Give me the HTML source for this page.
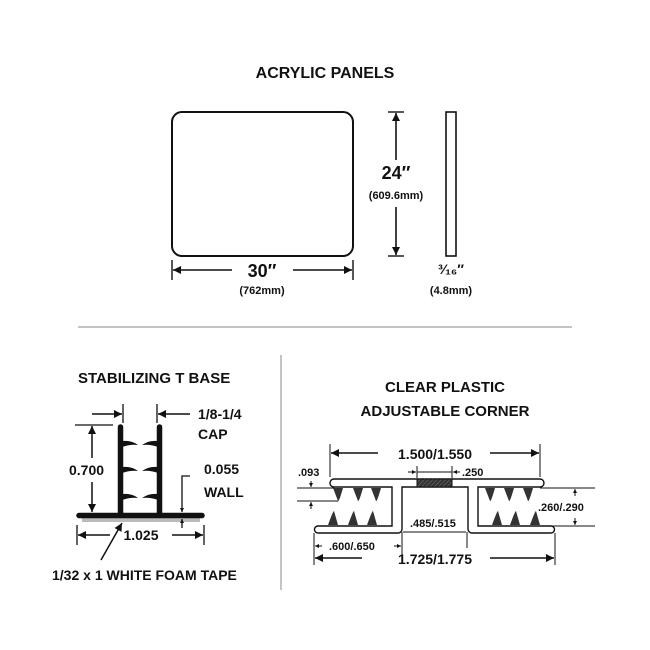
<!DOCTYPE html>
<html><head><style>
body{margin:0;background:#fff}
svg{display:block}
text{font-family:"Liberation Sans",sans-serif;font-weight:bold;fill:#111}
</style></head><body>
<svg width="650" height="650" viewBox="0 0 650 650" xmlns="http://www.w3.org/2000/svg">
<defs>
<marker id="a" viewBox="0 0 10 10" refX="10" refY="5" markerWidth="10" markerHeight="8" orient="auto-start-reverse" markerUnits="userSpaceOnUse"><path d="M0,0L10,5L0,10z" fill="#111"/></marker>
<marker id="s" viewBox="0 0 10 10" refX="10" refY="5" markerWidth="5" markerHeight="4" orient="auto-start-reverse" markerUnits="userSpaceOnUse"><path d="M0,0L10,5L0,10z" fill="#111"/></marker>
<pattern id="h" width="3" height="3" patternUnits="userSpaceOnUse" patternTransform="rotate(45)"><rect width="3" height="3" fill="#333"/><line x1="0" y1="0" x2="0" y2="3" stroke="#777" stroke-width="1"/></pattern>
</defs>
<g stroke="#111" fill="none">
<rect x="172" y="112" width="181" height="144" rx="10" stroke-width="2"/>
<rect x="446" y="112" width="10" height="144" stroke-width="1.6"/>
<line x1="388" y1="112" x2="404" y2="112" stroke-width="1.4"/>
<line x1="388" y1="256" x2="404" y2="256" stroke-width="1.4"/>
<line x1="396" y1="160" x2="396" y2="113" stroke-width="1.6" marker-end="url(#a)"/>
<line x1="396" y1="207" x2="396" y2="255" stroke-width="1.6" marker-end="url(#a)"/>
<line x1="172" y1="260" x2="172" y2="280" stroke-width="1.4"/>
<line x1="353" y1="260" x2="353" y2="280" stroke-width="1.4"/>
<line x1="232" y1="270" x2="173" y2="270" stroke-width="1.6" marker-end="url(#a)"/>
<line x1="293" y1="270" x2="352" y2="270" stroke-width="1.6" marker-end="url(#a)"/>
<line x1="78" y1="327" x2="572" y2="327" stroke="#888" stroke-width="1"/>
<line x1="281" y1="355" x2="281" y2="590" stroke="#888" stroke-width="1"/>
<!-- T base -->
<line x1="82" y1="520" x2="200" y2="520" stroke="#bbb" stroke-width="4"/>
<line x1="79" y1="515.5" x2="202" y2="515.5" stroke-width="5.5" stroke-linecap="round"/>
<line x1="120.5" y1="427" x2="120.5" y2="514" stroke-width="5.5" stroke-linecap="round"/>
<line x1="159.5" y1="427" x2="159.5" y2="514" stroke-width="5.5" stroke-linecap="round"/>
<g fill="#111" stroke="none">
<path d="M122,441 Q131,440 138,445 Q130,444 122,447z"/>
<path d="M122,467 Q131,466 138,471 Q130,470 122,473z"/>
<path d="M122,494 Q131,493 138,498 Q130,497 122,500z"/>
<path d="M158,441 Q149,440 142,445 Q150,444 158,447z"/>
<path d="M158,467 Q149,466 142,471 Q150,470 158,473z"/>
<path d="M158,494 Q149,493 142,498 Q150,497 158,500z"/>
</g>
<line x1="75" y1="425" x2="113" y2="425" stroke-width="1.3"/>
<line x1="92" y1="458" x2="92" y2="426" stroke-width="1.5" marker-end="url(#a)"/>
<line x1="92" y1="482" x2="92" y2="512" stroke-width="1.5" marker-end="url(#a)"/>
<line x1="123" y1="404" x2="123" y2="423" stroke-width="1.3"/>
<line x1="157" y1="404" x2="157" y2="423" stroke-width="1.3"/>
<line x1="92" y1="414" x2="122" y2="414" stroke-width="1.5" marker-end="url(#a)"/>
<line x1="190" y1="414" x2="158" y2="414" stroke-width="1.5" marker-end="url(#a)"/>
<polyline points="190,476 182,476 182,512" stroke-width="1.3" marker-end="url(#s)"/>
<line x1="182" y1="528" x2="182" y2="519" stroke-width="1.3" marker-end="url(#s)"/>
<line x1="77" y1="525" x2="77" y2="545" stroke-width="1.3"/>
<line x1="204" y1="525" x2="204" y2="545" stroke-width="1.3"/>
<line x1="110" y1="535" x2="78" y2="535" stroke-width="1.5" marker-end="url(#a)"/>
<line x1="172" y1="535" x2="203" y2="535" stroke-width="1.5" marker-end="url(#a)"/>
<line x1="101" y1="560" x2="122" y2="523" stroke-width="1.5" marker-end="url(#a)"/>
<!-- corner -->
<path d="M334,479 H540 a4,4 0 0 1 0,8 H478 V526 H551 a3.5,3.5 0 0 1 0,7 H472 a4,4 0 0 1 -4,-4 V487 H402 V529 a4,4 0 0 1 -4,4 H318 a3.5,3.5 0 0 1 0,-7 H392 V487 H334 a4,4 0 0 1 0,-8z" fill="#fff" stroke-width="1.4"/>
<rect x="417" y="479" width="35" height="8" fill="url(#h)" stroke-width="1"/>
<g fill="#333" stroke="none">
<path d="M333,488 L343,488 Q339,502 338,501z"/><path d="M353,488 L363,488 Q359,502 358,501z"/><path d="M371,488 L381,488 Q377,502 376,501z"/>
<path d="M485,488 L495,488 Q491,502 490,501z"/><path d="M504,488 L514,488 Q510,502 509,501z"/><path d="M523,488 L533,488 Q529,502 528,501z"/>
<path d="M328,525 L338,525 L334,511 Q333,511 328,525z"/><path d="M348,525 L358,525 L354,511 Q353,511 348,525z"/><path d="M367,525 L377,525 L373,511 Q372,511 367,525z"/>
<path d="M492,525 L502,525 L498,511 Q497,511 492,525z"/><path d="M510,525 L520,525 L516,511 Q515,511 510,525z"/><path d="M530,525 L540,525 L536,511 Q535,511 530,525z"/>
</g>
<line x1="330" y1="444" x2="330" y2="477" stroke-width="1"/>
<line x1="540" y1="444" x2="540" y2="477" stroke-width="1"/>
<line x1="378" y1="453" x2="331" y2="453" stroke-width="1.5" marker-end="url(#a)"/>
<line x1="490" y1="453" x2="539" y2="453" stroke-width="1.5" marker-end="url(#a)"/>
<line x1="417" y1="466" x2="417" y2="478" stroke-width="1"/>
<line x1="452" y1="466" x2="452" y2="478" stroke-width="1"/>
<line x1="408" y1="472" x2="416" y2="472" stroke-width="1" marker-end="url(#s)"/>
<line x1="417" y1="472" x2="452" y2="472" stroke-width="1"/>
<line x1="460" y1="472" x2="453" y2="472" stroke-width="1" marker-end="url(#s)"/>
<line x1="297" y1="488" x2="334" y2="488" stroke-width="1"/>
<line x1="297" y1="501" x2="338" y2="501" stroke-width="1"/>
<line x1="311" y1="481" x2="311" y2="487" stroke-width="1" marker-end="url(#s)"/>
<line x1="311" y1="509" x2="311" y2="502" stroke-width="1" marker-end="url(#s)"/>
<line x1="540" y1="488" x2="595" y2="488" stroke-width="1"/>
<line x1="540" y1="526" x2="595" y2="526" stroke-width="1"/>
<line x1="575" y1="496" x2="575" y2="489" stroke-width="1" marker-end="url(#s)"/>
<line x1="575" y1="518" x2="575" y2="525" stroke-width="1" marker-end="url(#s)"/>
<line x1="402" y1="532" x2="402" y2="555" stroke-width="1"/>
<line x1="467" y1="532" x2="467" y2="548" stroke-width="1"/>
<line x1="403" y1="532" x2="466" y2="532" stroke-width="1"/>
<line x1="314" y1="533" x2="314" y2="565" stroke-width="1"/>
<line x1="555" y1="533" x2="555" y2="565" stroke-width="1"/>
<line x1="322" y1="546" x2="315" y2="546" stroke-width="1" marker-end="url(#s)"/>
<line x1="394" y1="546" x2="401" y2="546" stroke-width="1" marker-end="url(#s)"/>
<line x1="362" y1="558" x2="315" y2="558" stroke-width="1.5" marker-end="url(#a)"/>
<line x1="490" y1="558" x2="554" y2="558" stroke-width="1.5" marker-end="url(#a)"/>
</g>
<text x="325" y="78" font-size="16" text-anchor="middle">ACRYLIC PANELS</text>
<text x="396" y="179" font-size="18" text-anchor="middle">24″</text>
<text x="396" y="199" font-size="11" text-anchor="middle">(609.6mm)</text>
<text x="262" y="277" font-size="18" text-anchor="middle">30″</text>
<text x="262" y="294" font-size="11" text-anchor="middle">(762mm)</text>
<text x="451" y="274" font-size="14" text-anchor="middle">³⁄₁₆″</text>
<text x="451" y="294" font-size="11" text-anchor="middle">(4.8mm)</text>
<text x="78" y="383" font-size="15">STABILIZING T BASE</text>
<text x="445" y="392" font-size="15" text-anchor="middle">CLEAR PLASTIC</text>
<text x="445" y="416" font-size="15" text-anchor="middle">ADJUSTABLE CORNER</text>
<text x="198" y="419" font-size="14">1/8-1/4</text>
<text x="198" y="439" font-size="14">CAP</text>
<text x="69" y="475" font-size="14">0.700</text>
<text x="204" y="474" font-size="14">0.055</text>
<text x="204" y="497" font-size="14">WALL</text>
<text x="141" y="540" font-size="14" text-anchor="middle">1.025</text>
<text x="52" y="580" font-size="14">1/32 x 1 WHITE FOAM TAPE</text>
<text x="435" y="459" font-size="14" text-anchor="middle">1.500/1.550</text>
<text x="462" y="476" font-size="11">.250</text>
<text x="298" y="476" font-size="11">.093</text>
<text x="538" y="511" font-size="11">.260/.290</text>
<text x="410" y="527" font-size="11">.485/.515</text>
<text x="329" y="550" font-size="11">.600/.650</text>
<text x="435" y="564" font-size="14" text-anchor="middle">1.725/1.775</text>
</svg>
</body></html>
